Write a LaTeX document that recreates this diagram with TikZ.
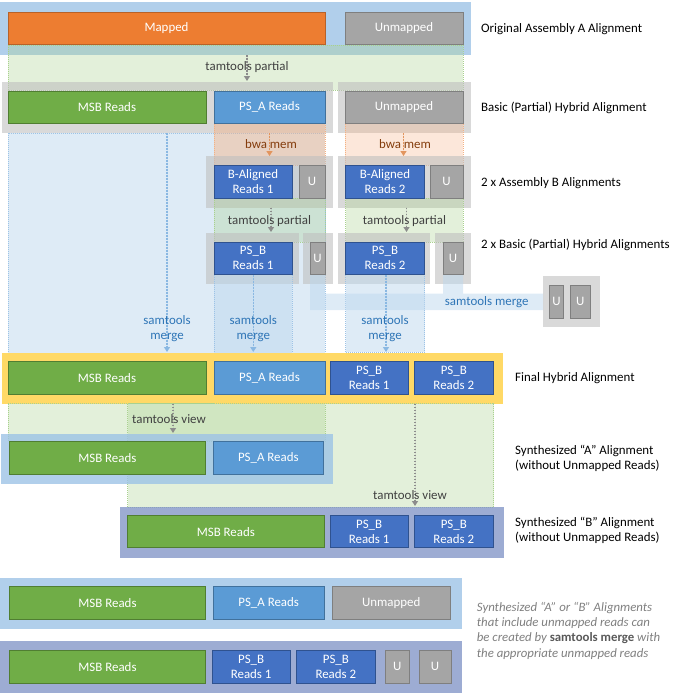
\documentclass[tikz,border=0pt]{standalone}
\usepackage{fontspec}
\setmainfont{Carlito}
\usetikzlibrary{arrows.meta}
\definecolor{cOrange}{HTML}{ED7D31}
\definecolor{cOrangeD}{HTML}{B7622A}
\definecolor{cGray}{HTML}{A5A5A5}
\definecolor{cGrayD}{HTML}{7F7F7F}
\definecolor{cGreen}{HTML}{70AD47}
\definecolor{cGreenD}{HTML}{507E32}
\definecolor{cBlueA}{HTML}{5B9BD5}
\definecolor{cBlueAD}{HTML}{41719C}
\definecolor{cBlueB}{HTML}{4472C4}
\definecolor{cBlueBD}{HTML}{2F528F}
\definecolor{cBgBlue}{HTML}{9DC3E6}
\definecolor{cBgSlate}{HTML}{8497C8}
\definecolor{cBgGray}{HTML}{BFBFBF}
\definecolor{cYellow}{HTML}{FFD966}
\definecolor{cBandG}{HTML}{A9D18E}
\definecolor{cBandO}{HTML}{F4B183}
\definecolor{cBandB}{HTML}{BDD7EE}
\definecolor{cTxtT}{HTML}{404040}
\definecolor{cTxtO}{HTML}{843C0C}
\definecolor{cTxtB}{HTML}{2E75B6}
\definecolor{cArrT}{HTML}{8C8C8C}
\definecolor{cArrO}{HTML}{E2955E}
\definecolor{cArrB}{HTML}{8AB8E2}
\definecolor{cNote}{HTML}{7F7F7F}
\definecolor{cNoteB}{HTML}{595959}
\newcommand\bx[7]{\node[#2, minimum width={(#5)-(#3)}, minimum height={(#6)-(#4)}] (#1) at ({((#3)+(#5))/2},{((#4)+(#6))/2}) {#7};}
\begin{document}
\begin{tikzpicture}[x=1pt,y=-1pt,
  font=\fontsize{12.9}{15}\selectfont,
  box/.style={draw, line width=0.8pt, inner sep=0pt, text=white, align=center},
  mapped/.style={box, fill=cOrange, draw=cOrangeD},
  unm/.style={box, fill=cGray, draw=cGrayD},
  msb/.style={box, fill=cGreen, draw=cGreenD},
  psa/.style={box, fill=cBlueA, draw=cBlueAD},
  psb/.style={box, fill=cBlueB, draw=cBlueBD},
  lbl/.style={anchor=west, inner sep=0pt, align=left, text=black},
  bgblue/.style={fill=cBgBlue, fill opacity=0.8},
  bgslate/.style={fill=cBgSlate, fill opacity=0.8},
  bggray/.style={fill=cBgGray, fill opacity=0.6},
  bdr/.style={line width=0.5pt, dash pattern=on 1pt off 1pt},
  bandG/.style={fill=cBandG, fill opacity=0.33, draw=cBandG, bdr},
  bandO/.style={fill=cBandO, fill opacity=0.3, draw=cBandO, bdr},
  bandB/.style={fill=cBandB, fill opacity=0.5, draw=cBgBlue, bdr},
  arrbase/.style={line width=1.6pt, dash pattern=on 1.6pt off 1.4pt, -{Triangle[width=6pt,length=5pt]}},
  arrT/.style={arrbase, draw=cArrT, fill=cArrT},
  arrO/.style={arrbase, draw=cArrO, fill=cArrO},
  arrB/.style={arrbase, draw=cArrB, fill=cArrB},
  txtT/.style={text=cTxtT, inner sep=0pt},
  txtO/.style={text=cTxtO, inner sep=0pt},
  txtB/.style={text=cTxtB, inner sep=0pt, align=center},
]
\useasboundingbox (0,0) rectangle (672,696);

% ---------- backgrounds and bands ----------
\fill[bgblue] (0,2) rectangle (471,55);
\filldraw[bandG] (8,45) rectangle (463,90);
\fill[bggray] (2,82) rectangle (333,133);
\fill[bggray] (338,82) rectangle (471,133);
\filldraw[bandB] (8,133) rectangle (325,353);
\filldraw[bandO, fill opacity=0.45] (214,123.5) rectangle (325,165);
\filldraw[bandO] (345,123.5) rectangle (463,165);
\fill[bggray] (206,156) rectangle (333,207.5);
\fill[bggray] (338,156) rectangle (471,207.5);
\filldraw[bandG] (214,198) rectangle (325,242);
\filldraw[bandG] (345.5,198) rectangle (463,242);
\fill[bggray] (206,233) rectangle (299,284);
\fill[bggray] (303,233) rectangle (333,284);
\fill[bggray] (338,233) rectangle (430,284);
\fill[bggray] (435,233) rectangle (471,284);
\filldraw[bandB] (214,274.5) rectangle (292,353);
\filldraw[bandB] (345.5,274.5) rectangle (424.5,352);
\fill[cBandB, fill opacity=0.5] (310,274.5) rectangle (325,310) (443,274.5) rectangle (463,310) (310,293.5) rectangle (543,310);
\fill[fill=cBgGray, fill opacity=0.6] (542.5,276) rectangle (599.5,327);
\fill[cYellow] (2,352.5) rectangle (503,403.5);
\filldraw[bandG] (8,403.5) rectangle (325,441);
\filldraw[bandG] (127.5,403.5) rectangle (493.5,507);
\fill[bgblue] (1,433.5) rectangle (332.5,483.5);
\fill[bgslate] (119.5,507) rectangle (503.5,558);
\fill[bgblue] (0,577.5) rectangle (462,629);
\fill[bgslate] (0,641) rectangle (462,693);

% ---------- row 1 ----------
\bx{mapA}{mapped}{8}{12.5}{325}{44.5}{Mapped}
\bx{unA}{unm}{345}{12.5}{463}{44.5}{Unmapped}
\node[lbl] (l1) at (481,29) {Original Assembly A Alignment};

% tamtools partial (1)
\coordinate (t1s) at (247,55);
\coordinate (t1e) at (247,81);
\draw[arrT] (t1s) -- (t1e);
\node[txtT] (t1) at (247,67.5) {tamtools partial};

% ---------- row 2 ----------
\bx{msb2}{msb}{8}{91}{206}{123.3}{MSB Reads}
\bx{psa2}{psa}{214}{91}{325}{123.3}{PS\_A Reads}
\bx{un2}{unm}{345}{91}{463}{123.3}{Unmapped}
\node[lbl] (l2) at (481,108) {Basic (Partial) Hybrid Alignment};

% bwa mem
\coordinate (b1s) at (269.5,133);
\coordinate (b1e) at (269.5,156);
\coordinate (b2s) at (403.5,133);
\coordinate (b2e) at (403.5,156);
\draw[arrO] (b1s) -- (b1e);
\draw[arrO] (b2s) -- (b2e);
\node[txtO] (bw1) at (271,144.5) {bwa mem};
\node[txtO] (bw2) at (405,144.5) {bwa mem};

% ---------- row 3 ----------
\bx{ba1}{psb}{214}{165}{292}{198}{B-Aligned\\Reads 1}
\bx{u31}{unm}{299}{165}{325}{198}{U}
\bx{ba2}{psb}{345.5}{165}{424.5}{198}{B-Aligned\\Reads 2}
\bx{u32}{unm}{430}{165}{463}{198}{U}
\node[lbl] (l3) at (481,182.7) {2 x Assembly B Alignments};

% tamtools partial (2)
\coordinate (t2s) at (271,207.5);
\coordinate (t2e) at (271,232);
\coordinate (t3s) at (406.5,207.5);
\coordinate (t3e) at (406.5,232);
\draw[arrT] (t2s) -- (t2e);
\draw[arrT] (t3s) -- (t3e);
\node[txtT] (t2) at (269.5,220.7) {tamtools partial};
\node[txtT] (t3) at (404.5,220.7) {tamtools partial};

% ---------- row 4 ----------
\bx{pb41}{psb}{214}{242}{292}{274.3}{PS\_B\\Reads 1}
\bx{u41}{unm}{310}{242}{325}{274.3}{U}
\bx{pb42}{psb}{345.5}{242}{424.5}{274.3}{PS\_B\\Reads 2}
\bx{u42}{unm}{443}{242}{463}{274.3}{U}
\node[lbl] (l4) at (481,245.3) {2 x Basic (Partial) Hybrid Alignments};

% samtools merge of unmapped
\bx{uu1}{unm}{549.5}{285}{563.5}{318.3}{U}
\bx{uu2}{unm}{570}{285}{590.5}{318.3}{U}
\node[txtB] (sm0) at (486.7,301.7) {samtools merge};

% samtools merge columns
\coordinate (s1s) at (167,133);
\coordinate (s1e) at (167,352);
\coordinate (s2s) at (253.3,275);
\coordinate (s2e) at (253.3,352);
\coordinate (s3s) at (386,275);
\coordinate (s3e) at (386,352);
\draw[arrB] (s1s) -- (s1e);
\draw[arrB] (s2s) -- (s2e);
\draw[arrB] (s3s) -- (s3e);
\node[txtB] (sm1) at (167,329) {samtools\\merge};
\node[txtB] (sm2) at (253.3,329) {samtools\\merge};
\node[txtB] (sm3) at (385,329) {samtools\\merge};

% ---------- row 5: final ----------
\bx{msb5}{msb}{8}{361}{206}{394.7}{MSB Reads}
\bx{psa5}{psa}{214}{361}{325}{394.7}{PS\_A Reads}
\bx{pb51}{psb}{330}{361}{408.3}{394.7}{PS\_B\\Reads 1}
\bx{pb52}{psb}{414.3}{361}{493.3}{394.7}{PS\_B\\Reads 2}
\node[lbl] (l5) at (515,378) {Final Hybrid Alignment};

% tamtools view
\coordinate (v1s) at (173,403.5);
\coordinate (v1e) at (173,433);
\coordinate (v2s) at (415,403.5);
\coordinate (v2e) at (415,506);
\draw[arrT] (v1s) -- (v1e);
\draw[arrT] (v2s) -- (v2e);
\node[txtT] (tv1) at (169,419.3) {tamtools view};
\node[txtT] (tv2) at (410,495) {tamtools view};

% ---------- row 6: synthesized A ----------
\bx{msb6}{msb}{9}{441}{205.7}{474.3}{MSB Reads}
\bx{psa6}{psa}{213.3}{441}{323.3}{474.3}{PS\_A Reads}
\node[lbl] (l6) at (515,458.3) {Synthesized “A” Alignment\\(without Unmapped Reads)};

% ---------- row 7: synthesized B ----------
\bx{msb7}{msb}{127.7}{515.7}{324}{547.7}{MSB Reads}
\bx{pb71}{psb}{330}{515.7}{408.3}{547.7}{PS\_B\\Reads 1}
\bx{pb72}{psb}{414.3}{515.7}{493.3}{547.7}{PS\_B\\Reads 2}
\node[lbl] (l7) at (515,530) {Synthesized “B” Alignment\\(without Unmapped Reads)};

% ---------- row 8 ----------
\bx{msb8}{msb}{9.3}{586}{205.7}{619.3}{MSB Reads}
\bx{psa8}{psa}{213.3}{586}{324}{619.3}{PS\_A Reads}
\bx{un8}{unm}{332.3}{586}{450}{619.3}{Unmapped}

% ---------- row 9 ----------
\bx{msb9}{msb}{9.3}{650}{205.7}{683.3}{MSB Reads}
\bx{pb91}{psb}{212.3}{650}{290}{683.3}{PS\_B\\Reads 1}
\bx{pb92}{psb}{296}{650}{375.7}{683.3}{PS\_B\\Reads 2}
\bx{u91}{unm}{385}{650}{409.3}{683.3}{U}
\bx{u92}{unm}{419}{650}{451}{683.3}{U}

% note
\node[lbl, text=cNote, font=\fontsize{12.8}{15.3}\selectfont\itshape] (note) at (476.7,630.5)
  {Synthesized “A” or “B” Alignments\\that include unmapped reads can\\be created by {\upshape\bfseries\color{cNoteB}samtools merge} with\\the appropriate unmapped reads};
\end{tikzpicture}
\end{document}
